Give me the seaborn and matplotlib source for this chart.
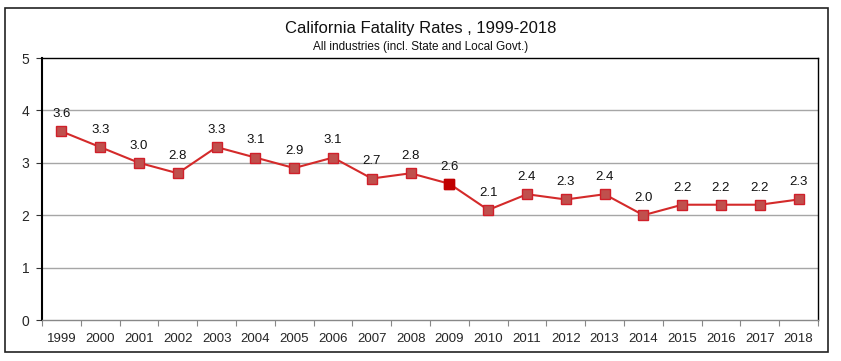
import matplotlib
matplotlib.use("Agg")
import matplotlib.pyplot as plt
import seaborn as sns
import pandas as pd
from matplotlib.patches import Rectangle
from matplotlib.ticker import FixedLocator
from matplotlib import font_manager

years = ["1999", "2000", "2001", "2002", "2003", "2004", "2005", "2006", "2007", "2008",
         "2009", "2010", "2011", "2012", "2013", "2014", "2015", "2016", "2017", "2018"]
rates = [3.6, 3.3, 3.0, 2.8, 3.3, 3.1, 2.9, 3.1, 2.7, 2.8,
         2.6, 2.1, 2.4, 2.3, 2.4, 2.0, 2.2, 2.2, 2.2, 2.3]
title = "California Fatality Rates , 1999-2018"
subtitle = "All industries (incl. State and Local Govt.)"

sns.set_theme(style="white")
names = {f.name for f in font_manager.fontManager.ttflist}
fam = "Liberation Sans Narrow" if "Liberation Sans Narrow" in names else "Liberation Sans"
plt.rcParams["font.family"] = [fam, "DejaVu Sans"]

df = pd.DataFrame({"year": years, "rate": rates})
df["x"] = range(len(years))

fig = plt.figure(figsize=(8.41, 3.61), dpi=100)
ax = fig.add_axes([42/841, 1-320/361, (818-42)/841, (320-58)/361])

line_color = "#D42A2A"
sns.lineplot(data=df, x="x", y="rate", ax=ax, color=line_color, lw=1.5,
             marker="s", markersize=7.5, markerfacecolor="#C0504D",
             markeredgecolor="#D0202A", markeredgewidth=1.0)
# highlight 2009
hi = df[df["year"] == "2009"]
ax.plot(hi["x"], hi["rate"], marker="s", markersize=7.5, color="#C00000",
        markeredgecolor="#C00000", ls="none", zorder=5)

for xi, v in zip(df["x"], df["rate"]):
    ax.annotate(f"{v:.1f}", (xi, v), xytext=(0, 8), textcoords="offset points",
                ha="center", va="bottom", fontsize=9.5, color="#111111")

ax.set_xlim(-0.5, len(years) - 0.5)
ax.set_ylim(0, 5)
ax.set_yticks([0, 1, 2, 3, 4, 5])
ax.set_yticklabels(["0", "1", "2", "3", "4", "5"], fontsize=10)
ax.set_xticks(df["x"])
ax.set_xticklabels(years, fontsize=9.5)
ax.xaxis.set_minor_locator(FixedLocator([i - 0.5 for i in range(len(years) + 1)]))
ax.tick_params(axis="x", which="major", length=0, pad=9, bottom=True)
ax.tick_params(axis="x", which="minor", length=4, width=0.8, color="#888888",
               direction="out", bottom=True)
ax.tick_params(axis="y", which="major", length=4, width=0.8, color="#333333",
               direction="out", pad=5, left=True)
ax.set_xlabel("")
ax.set_ylabel("")

for yv in [1, 2, 3, 4]:
    ax.axhline(yv, color="#A6A6A6", lw=1.0, zorder=0)

ax.spines["left"].set_color("black")
ax.spines["left"].set_linewidth(1.5)
ax.spines["top"].set_color("black")
ax.spines["top"].set_linewidth(1.0)
ax.spines["right"].set_color("black")
ax.spines["right"].set_linewidth(1.0)
ax.spines["bottom"].set_color("#888888")
ax.spines["bottom"].set_linewidth(1.0)

fig.text(0.5, 1 - 28/361, title, ha="center", va="center", fontsize=12, color="#111111")
fig.text(0.5, 1 - 47/361, subtitle, ha="center", va="center", fontsize=8.5, color="#111111")

fig.patches.append(Rectangle((5/841, 1 - 352/361), (828-5)/841, (352-8)/361,
                             transform=fig.transFigure, fill=False,
                             edgecolor="#222222", lw=1.2, figure=fig))

fig.savefig("out.png", dpi=100)
